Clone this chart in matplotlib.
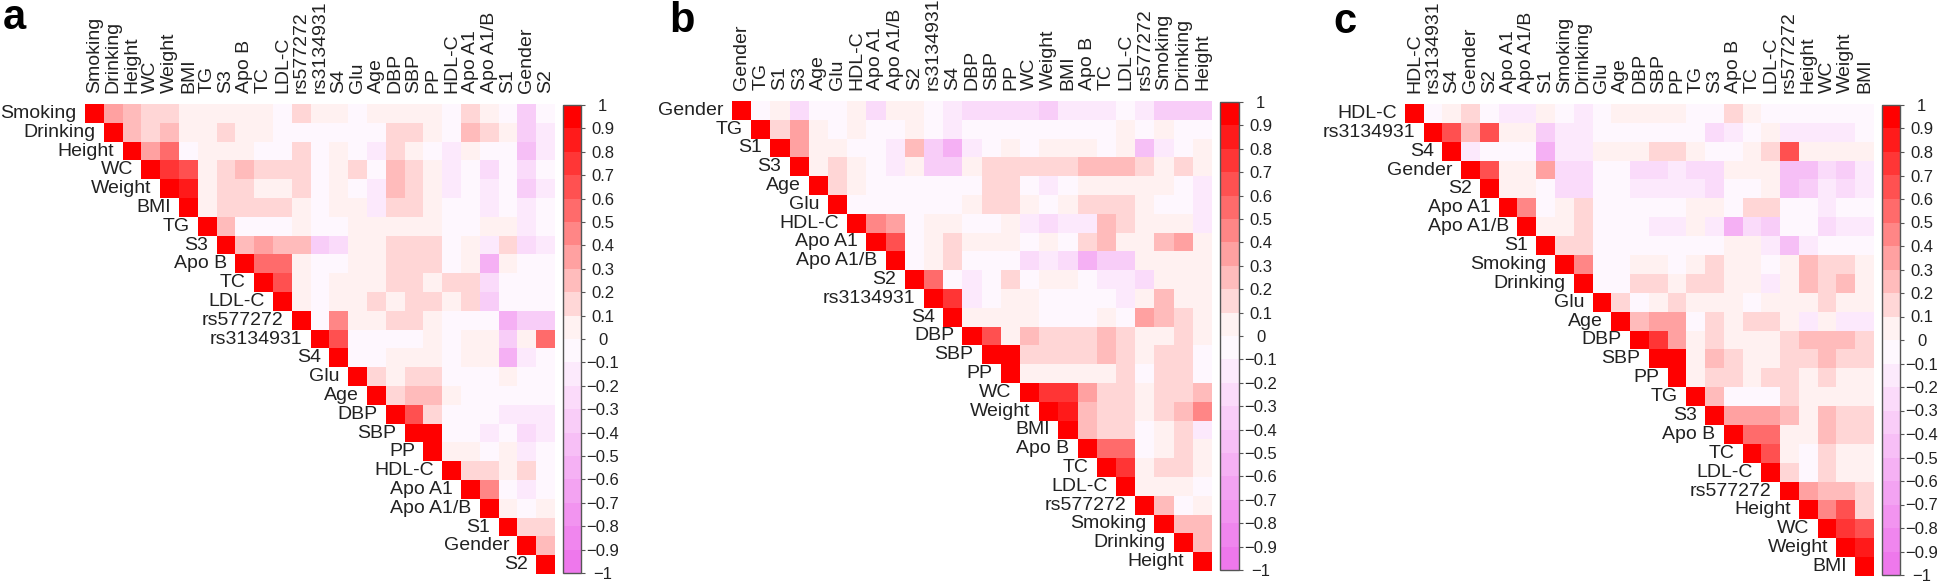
import numpy as np
import matplotlib
matplotlib.use('Agg')
import matplotlib.pyplot as plt
from matplotlib.colors import LinearSegmentedColormap

plt.rcParams['font.family'] = ['Liberation Sans', 'DejaVu Sans']

names_a = ['Smoking', 'Drinking', 'Height', 'WC', 'Weight', 'BMI', 'TG', 'S3', 'Apo B', 'TC', 'LDL-C',
           'rs577272', 'rs3134931', 'S4', 'Glu', 'Age', 'DBP', 'SBP', 'PP', 'HDL-C', 'Apo A1', 'Apo A1/B',
           'S1', 'Gender', 'S2']
names_b = ['Gender', 'TG', 'S1', 'S3', 'Age', 'Glu', 'HDL-C', 'Apo A1', 'Apo A1/B', 'S2', 'rs3134931', 'S4',
           'DBP', 'SBP', 'PP', 'WC', 'Weight', 'BMI', 'Apo B', 'TC', 'LDL-C', 'rs577272', 'Smoking',
           'Drinking', 'Height']
names_c = ['HDL-C', 'rs3134931', 'S4', 'Gender', 'S2', 'Apo A1', 'Apo A1/B', 'S1', 'Smoking', 'Drinking',
           'Glu', 'Age', 'DBP', 'SBP', 'PP', 'TG', 'S3', 'Apo B', 'TC', 'LDL-C', 'rs577272', 'Height', 'WC',
           'Weight', 'BMI']

# upper triangle only, each row starts on the diagonal
rows_a = [
    [1, .35, .25, .15, .15, .05, .05, .05, .05, .05, -.05, .15, .05, .05, -.05, .05, .05, .05, .05, -.05, .15, .05, -.05, -.35, -.05],
    [1, .25, .15, .25, .05, .05, .15, .05, .05, -.05, -.05, -.05, -.05, -.05, -.05, .15, .15, .05, -.05, .25, .15, .05, -.35, -.15],
    [1, .35, .55, -.05, .05, .05, .05, -.05, -.05, .15, -.05, .05, -.05, -.15, .15, .05, -.05, -.15, .05, -.05, -.05, -.45, -.15],
    [1, .75, .65, .05, .15, .25, .15, .15, .15, -.05, .05, .15, -.05, .25, .15, .05, -.15, -.05, -.25, -.05, -.25, -.05],
    [1, .85, .05, .15, .15, .05, .05, .15, -.05, .05, -.05, -.15, .25, .15, .05, -.15, -.05, -.15, -.05, -.35, -.15],
    [1, .05, .15, .15, .15, .15, .05, -.05, .05, .05, -.15, .15, .15, .05, -.05, -.05, -.15, -.05, -.15, -.05],
    [1, .25, -.05, -.05, -.05, .05, -.05, -.05, .05, .05, .05, .05, .05, -.05, -.05, .05, .05, -.15, -.05],
    [1, .25, .35, .25, .25, -.35, -.25, .05, .05, .15, .15, .15, -.05, .05, -.15, .15, -.25, -.15],
    [1, .55, .55, .05, -.05, -.05, .05, .05, .15, .15, .15, -.05, .05, -.55, .05, -.05, -.05],
    [1, .65, .05, -.05, .05, .05, .05, .15, .15, .05, .15, .15, -.25, -.05, -.05, -.05],
    [1, .05, -.05, .05, .05, .15, .05, .15, .15, .05, .15, -.35, -.05, -.05, -.05],
    [1, -.05, .45, .05, .05, .15, .15, .05, -.05, -.05, -.05, -.55, -.35, -.35],
    [1, .65, -.05, -.05, -.05, -.05, .05, -.05, .05, .05, -.35, .05, .55],
    [1, -.05, -.05, .05, .05, .05, -.05, .05, .05, -.55, -.15, -.05],
    [1, .15, .05, .15, .15, -.05, -.05, -.05, .05, -.05, -.05],
    [1, .15, .25, .25, .05, -.05, -.05, -.05, -.05, -.05],
    [1, .65, .15, -.05, -.05, -.05, -.15, -.15, -.15],
    [1, .9, -.05, -.05, -.15, -.05, -.25, -.15],
    [1, .05, .05, -.05, .05, -.15, -.05],
    [1, .15, .15, .05, .15, -.05],
    [1, .45, -.05, -.15, -.05],
    [1, .05, -.05, .05],
    [1, .15, .15],
    [1, .25],
    [1],
]
rows_b = [
    [1, -.05, .05, -.25, -.05, -.05, .05, -.25, .05, .05, -.05, -.15, -.25, -.25, -.25, -.25, -.35, -.15, -.15, -.15, -.05, -.15, -.35, -.35, -.35],
    [1, .15, .35, .05, -.05, .05, -.05, -.05, .05, -.05, -.15, -.05, -.05, -.05, -.05, -.05, -.05, -.05, -.05, .05, -.05, .05, -.05, -.05],
    [1, .35, .05, .05, -.05, -.05, -.15, .25, -.35, -.55, -.15, -.05, .05, -.05, .05, .05, .05, -.05, .05, -.45, -.15, -.05, .05],
    [1, .05, .15, .05, -.05, -.15, .05, -.35, -.35, .05, .15, .15, .15, .15, .15, .25, .25, .25, .15, .05, .15, .05],
    [1, .15, .05, -.05, -.05, -.05, -.05, -.05, -.05, .15, .15, -.05, -.15, -.05, .05, .05, .05, .05, .05, -.05, -.15],
    [1, -.05, -.05, -.05, -.05, -.05, -.05, .05, .15, .15, .05, -.05, .05, .15, .15, .15, .05, -.05, -.05, -.15],
    [1, .45, .35, -.05, .05, .05, -.05, -.05, .05, -.15, -.25, -.15, -.15, .25, .15, .05, .05, .05, -.15],
    [1, .6, -.05, .05, .15, .05, .05, .05, -.05, .05, -.05, .15, .25, .05, .05, .25, .35, .05],
    [1, -.05, .05, .15, -.05, -.05, -.05, -.25, -.15, -.25, -.55, -.35, -.35, .05, .05, .05, .05],
    [1, .55, -.05, -.15, -.05, .15, -.05, .05, .05, -.05, -.15, -.15, -.25, .05, .05, .05],
    [1, .75, -.15, -.05, .05, .05, -.05, -.05, -.05, -.05, -.15, .05, .25, .05, .05],
    [1, .05, .05, .05, .05, -.05, -.05, -.05, .05, -.05, .35, .25, .15, .05],
    [1, .65, .05, .25, .15, .15, .15, .25, .15, .05, .05, .15, .05],
    [1, .9, .15, .15, .15, .15, .25, .15, .05, .15, .15, -.05],
    [1, .05, .05, .05, .05, .05, .15, -.05, .15, .15, -.05],
    [1, .75, .7, .35, .15, .15, .05, .15, .15, .25],
    [1, .8, .25, .15, .15, .05, .15, .25, .45],
    [1, .25, .15, .15, -.05, .05, .15, -.15],
    [1, .55, .55, -.05, .05, .15, .05],
    [1, .75, .05, .15, .15, .05],
    [1, .05, .05, .05, -.05],
    [1, .25, -.05, .05],
    [1, .25, .25],
    [1, .25],
    [1],
]
rows_c = [
    [1, -.05, .05, .15, -.05, -.15, -.15, .05, -.05, -.15, -.05, .05, .05, .05, .05, -.05, -.05, .15, .05, -.05, -.05, -.05, -.05, -.05, -.05],
    [1, .6, .25, .6, .05, .05, -.35, -.15, -.15, -.05, -.05, -.05, -.05, -.05, -.05, -.25, -.15, -.05, .05, -.15, -.15, -.15, -.15, -.05],
    [1, -.15, -.05, -.05, -.05, -.55, -.15, -.15, .05, .05, .05, .15, .15, .05, -.05, -.05, .05, .15, .6, .05, .05, .05, .05],
    [1, .6, .05, .05, .35, -.25, -.25, -.05, -.05, -.25, -.25, -.15, -.25, -.25, .05, .05, .05, -.5, -.45, -.25, -.35, -.15],
    [1, .05, .05, -.05, -.25, -.25, -.05, -.05, -.15, -.15, -.15, -.15, -.25, -.05, -.05, .05, -.5, -.35, -.15, -.25, -.15],
    [1, .45, -.05, .05, .15, -.05, -.05, -.05, -.05, -.05, .05, .05, -.05, .15, .15, -.05, -.05, -.15, -.05, -.05],
    [1, .05, .05, .15, -.05, -.05, -.05, -.15, -.15, .05, -.15, -.55, -.25, -.35, -.05, -.05, -.25, -.15, -.15],
    [1, .15, .15, -.05, -.05, -.05, -.05, -.05, -.05, -.05, .05, .05, -.15, -.5, -.15, -.05, -.05, -.05],
    [1, .45, -.05, -.05, .05, .05, -.05, .05, .15, .05, .05, -.05, .05, .25, .15, .15, .05],
    [1, -.05, -.05, .15, .15, .05, .15, .15, .05, .05, -.15, .05, .25, .15, .25, .05],
    [1, .15, -.05, .05, .15, .05, .05, .05, -.05, .05, .05, .05, .15, .05, .05],
    [1, .25, .35, .35, -.05, .15, .05, .15, .15, .05, -.15, .05, -.15, -.15],
    [1, .75, .35, .05, .15, .05, .05, .05, .15, .25, .25, .25, .15],
    [1, .9, .05, .25, .15, .05, .05, .15, .15, .25, .15, .15],
    [1, .05, .15, .15, .05, .15, .15, .05, .15, .05, .05],
    [1, .25, -.05, -.05, -.05, .15, .05, .05, .05, .05],
    [1, .35, .35, .35, .25, .05, .25, .15, .15],
    [1, .55, .55, .05, .05, .25, .15, .15],
    [1, .6, .05, -.05, .15, .05, .05],
    [1, .15, -.05, .15, .05, .05],
    [1, .35, .25, .25, .15],
    [1, .45, .65, .15],
    [1, .75, .65],
    [1, .85],
    [1],
]

cbar_ticks = [-1, -.9, -.8, -.7, -.6, -.5, -.4, -.3, -.2, -.1, 0, .1, .2, .3, .4, .5, .6, .7, .8, .9, 1]

W, H = 1938, 586
cmap = LinearSegmentedColormap.from_list('vwr', ['#EE78EC', '#FFFFFF', '#FF0000'], N=20)


def px_axes(fig, x0, y0, x1, y1):
    return fig.add_axes([x0 / W, 1 - y1 / H, (x1 - x0) / W, (y1 - y0) / H])


def draw_panel(fig, letter, letter_xy, names, rows, box, cbox):
    n = len(names)
    mat = np.full((n, n), np.nan)
    for i, row in enumerate(rows):
        mat[i, i:] = row
    ax = px_axes(fig, *box)
    im = ax.imshow(np.ma.masked_invalid(mat), cmap=cmap, vmin=-1, vmax=1, aspect='auto', interpolation='nearest')
    for s in ax.spines.values():
        s.set_visible(False)
    ax.set_xticks(range(n))
    ax.set_xticklabels(names, rotation=90, fontsize=14, color='#222222')
    ax.set_yticks([])
    ax.tick_params(axis='x', top=True, labeltop=True, bottom=False, labelbottom=False, length=0, pad=8)
    for i, name in enumerate(names):
        ax.annotate(name, xy=(i - 0.5, i), xytext=(-6, 0), textcoords='offset points', ha='right', va='center',
                    fontsize=14, color='#222222')

    cax = px_axes(fig, *cbox)
    cb = fig.colorbar(im, cax=cax, ticks=cbar_ticks, drawedges=False)
    cb.outline.set_edgecolor('#555555')
    cb.outline.set_linewidth(1.0)
    cb.ax.set_yticklabels([f'{t:g}'.replace('-', '\u2212') for t in cbar_ticks])
    cb.ax.tick_params(length=3, width=0.8, color='#555555', pad=12.5, labelsize=12, labelcolor='#222222')
    for lab in cb.ax.get_yticklabels():
        lab.set_ha('center')

    fig.text(letter_xy[0] / W, 1 - letter_xy[1] / H, letter, fontsize=30, fontweight='bold', color='black',
             ha='left', va='baseline')


fig = plt.figure(figsize=(W / 100, H / 100), dpi=100)
draw_panel(fig, 'a', (3, 29), names_a, rows_a, (85, 104, 555, 574), (563, 105, 581, 573))
draw_panel(fig, 'b', (669, 32), names_b, rows_b, (732, 101, 1212, 571), (1220, 102, 1239, 570))
draw_panel(fig, 'c', (1333, 33), names_c, rows_c, (1405, 104, 1874, 576), (1882, 105, 1900, 575))
fig.savefig('out.png', dpi=100)
